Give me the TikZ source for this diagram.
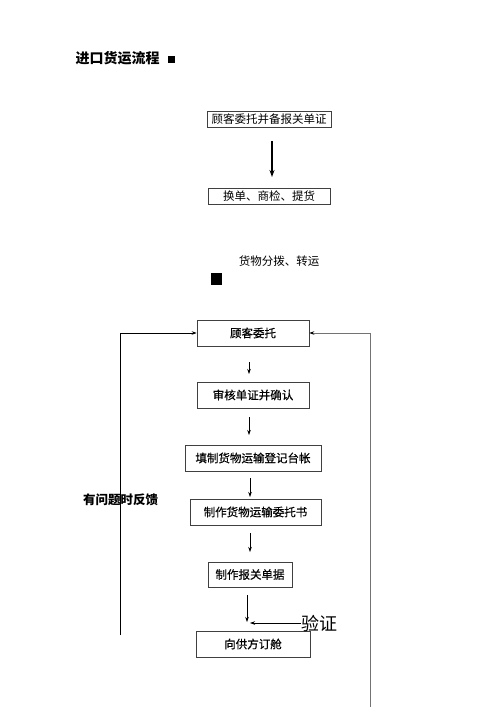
\documentclass[tikz,border=0pt]{standalone}
\usepackage{fontspec}
\setmainfont{Noto Sans CJK SC}
\newfontfamily\heavyfont[FakeBold=0.6]{Noto Sans CJK SC}
\usetikzlibrary{arrows.meta}
\tikzset{
  stepbox/.style={draw=black!75, line width=.6pt, inner sep=0pt, font=\fontsize{11.5}{12}\selectfont},
  heavybox/.style={stepbox, font=\fontsize{11.5}{12}\heavyfont},
  flow/.style={-{Stealth[length=5pt,width=3.5pt]}, line width=.6pt},
  back/.style={-{Stealth[length=5pt,width=3.5pt]}, line width=.8pt}
}
\begin{document}
\begin{tikzpicture}[x=1pt,y=1pt]
\useasboundingbox (0,0) rectangle (500,-707);
% title
\node[anchor=west, font=\fontsize{14}{14}\selectfont\bfseries] (title) at (72,-58) {进口货运流程};
\fill (168,-56) rectangle (175,-63);
% upper part
\node[stepbox, minimum width=124, minimum height=16] (custdocs) at (269,-119) {顾客委托并备报关单证};
\node[stepbox, minimum width=122, minimum height=16] (pickup) at (269,-196) {换单、商检、提货};
\draw[-{Stealth[length=7pt,width=5pt]}, line width=1.6pt] (272,-141) -- (272,-177);
\node[font=\fontsize{11.5}{12}\selectfont] (distrib) at (279,-261) {货物分拨、转运};
\fill (211,-273) rectangle (222,-285);
% lower flow
\node[heavybox, minimum width=112, minimum height=26] (entrust) at (253,-333) {顾客委托};
\node[heavybox, minimum width=112, minimum height=26] (check) at (253,-395) {审核单证并确认};
\node[heavybox, minimum width=136, minimum height=26] (ledger) at (253,-458) {填制货物运输登记台帐};
\node[heavybox, minimum width=131, minimum height=26] (order) at (255.5,-512) {制作货物运输委托书};
\node[heavybox, minimum width=84, minimum height=25] (declare) at (250,-574.5) {制作报关单据};
\node[heavybox, minimum width=114, minimum height=26] (booking) at (253,-644) {向供方订舱};
\draw[flow] (249,-362) -- (249,-374);
\draw[flow] (249,-417) -- (249,-435);
\draw[flow] (250,-478) -- (250,-497);
\draw[flow] (250,-533) -- (250,-552);
\coordinate (stop) at (247,-622);
\draw[flow] (247,-595) -- (stop);
% verification
\node[anchor=west, inner sep=0pt, font=\fontsize{18}{18}\selectfont] (verify) at (301,-624) {验证};
\coordinate (vend) at (250,-623);
\draw[flow] (verify.west |- vend) -- (vend);
% feedback lines
\node[anchor=west, inner sep=0pt, font=\fontsize{12.5}{13}\selectfont\bfseries] (feedback) at (83,-500) {有问题时反馈};
\coordinate (lbot) at (120,-635);
\draw[back] (lbot) |- (entrust.west);
\coordinate (rbot) at (370,-707);
\draw[back, draw=black!55, line width=1pt, -{Stealth[length=5pt,width=3.5pt,color=black,fill=black]}] (rbot) |- (entrust.east);
\end{tikzpicture}
\end{document}
